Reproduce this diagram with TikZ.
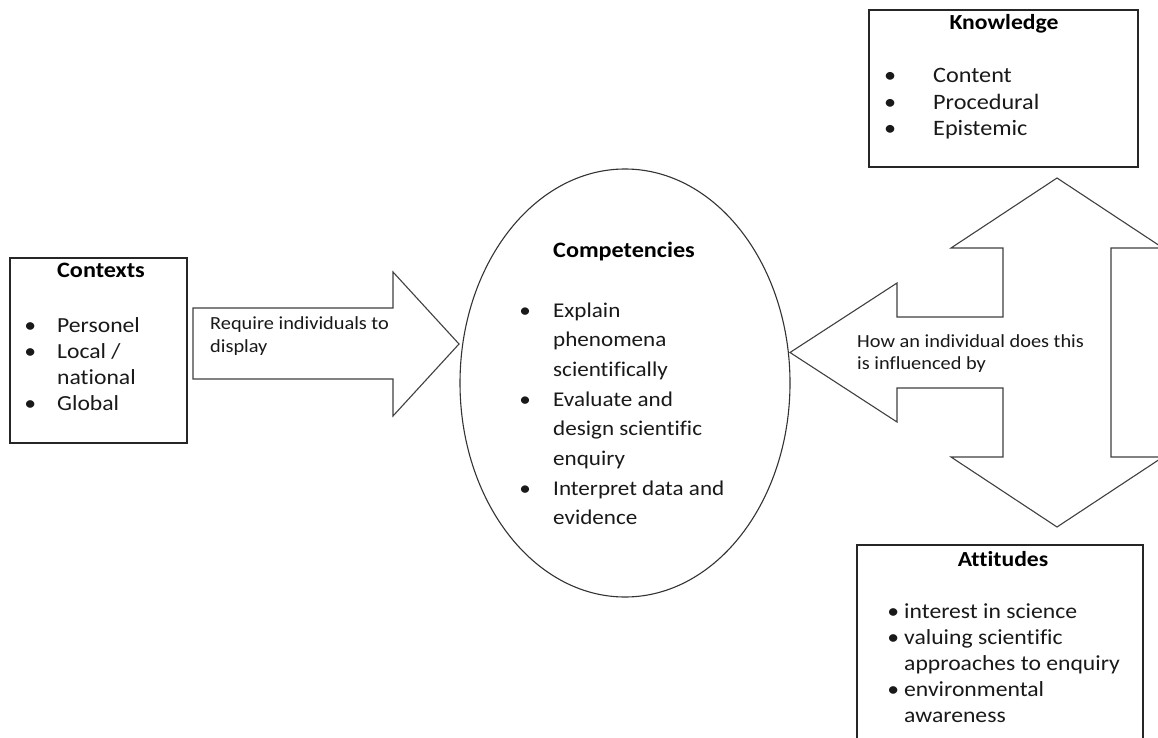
\documentclass[tikz,border=0pt]{standalone}
\usepackage{fontspec}
\setmainfont{Carlito}[FakeStretch=1.1,Ligatures=NoCommon]
\usepackage{array}
\usetikzlibrary{shapes.geometric}
\newcommand\itm{\makebox[0pt]{\textbullet}}
\tikzset{
  boxframe/.style={draw=black!85, line width=1.4pt, fill=white},
  arrowshape/.style={draw=black!75, line width=1.1pt, fill=white, line join=miter},
  titletext/.style={inner sep=0pt, anchor=base, font=\fontsize{21.5}{24}\selectfont\bfseries},
  listtext/.style={inner sep=0pt, anchor=base west, text=black!90},
}
\begin{document}
\begin{tikzpicture}[x=1pt,y=-1pt]
\clip (0,0) rectangle (1158,738);
\fill[white] (0,0) rectangle (1158,738);

% boxes
\draw[boxframe] (10,258) rectangle (187,443);
\draw[boxframe] (869,10) rectangle (1138,167);
\draw[boxframe] (857,545) rectangle (1143,750);

% right-pointing arrow
\draw[arrowshape] (193,308) -- (393,308) -- (393,272) -- (459,344) -- (393,416) -- (393,379) -- (193,379) -- cycle;

% ellipse
\node (comp) [draw=black!80, line width=1.1pt, ellipse, minimum width=330pt, minimum height=428pt, inner sep=0pt] at (625,383) {};

% combined left + up/down arrow
\draw[arrowshape] (790,352.5) -- (897,283) -- (897,317) -- (1003,317) -- (1003,248) -- (951,248) -- (1057,178) -- (1163,248) -- (1111,248) -- (1111,457) -- (1163,457) -- (1057,527) -- (951,457) -- (1003,457) -- (1003,388) -- (897,388) -- (897,422) -- cycle;

% titles
\node (ctxt) [titletext, font=\fontsize{22}{24}\selectfont\bfseries] at (101,277) {Contexts};
\node (knowt) [titletext] at (1004,30) {Knowledge};
\node (attt) [titletext] at (1003,566) {Attitudes};
\node (compt) [titletext, anchor=base west, font=\fontsize{22}{24}\selectfont\bfseries] at (553,257) {Competencies};

% lists
\node (ctxl) [listtext, font=\fontsize{21.5}{26}\selectfont] at (30,332) {%
\begin{tabular}[t]{@{}p{27pt}@{}l@{}}
\itm & Personel\\
\itm & Local /\\
     & national\\
\itm & Global
\end{tabular}};

\node (knowl) [listtext, font=\fontsize{22}{26.5}\selectfont] at (890,83) {%
\begin{tabular}[t]{@{}p{43pt}@{}l@{}}
\itm & Content\\
\itm & Procedural\\
\itm & Epistemic
\end{tabular}};

\node (attl) [listtext, font=\fontsize{21.5}{26}\selectfont] at (893,618) {%
\begin{tabular}[t]{@{}p{11pt}@{}l@{}}
\itm & interest in science\\
\itm & valuing scientific\\
     & approaches to enquiry\\
\itm & environmental\\
     & awareness
\end{tabular}};

\node (compl) [listtext, font=\fontsize{21}{29.7}\selectfont] at (525,317) {%
\begin{tabular}[t]{@{}p{28pt}@{}l@{}}
\itm & Explain\\
     & phenomena\\
     & scientifically\\
\itm & Evaluate and\\
     & design scientific\\
     & enquiry\\
\itm & Interpret data and\\
     & evidence
\end{tabular}};

% arrow labels
\node (req) [listtext, font=\fontsize{18.5}{23.5}\selectfont] at (210,329) {%
\begin{tabular}[t]{@{}l@{}}Require individuals to\\display\end{tabular}};
\node (how) [listtext, font=\fontsize{18.5}{22}\selectfont] at (857,347) {%
\begin{tabular}[t]{@{}l@{}}How an individual does this\\is influenced by\end{tabular}};
\end{tikzpicture}
\end{document}
